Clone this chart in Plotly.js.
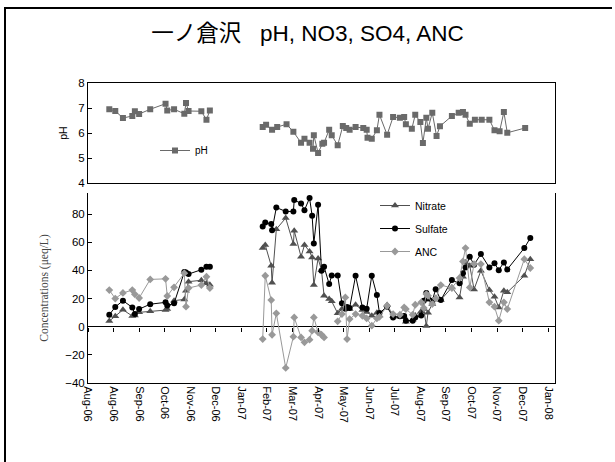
<!DOCTYPE html>
<html>
<head>
<meta charset="utf-8">
<script src="https://cdn.plot.ly/plotly-3.0.1.min.js"></script>
<style>
  html, body { margin: 0; padding: 0; background: #fff; }
  #wrap { position: relative; width: 615px; height: 462px; overflow: hidden; }
  #chart { position: absolute; left: 0; top: 0; width: 615px; height: 462px; }
  #frame { position: absolute; left: 4px; top: 7px; width: 606px; height: 470px;
           border-left: 2px solid #000; border-top: 2px solid #000; pointer-events: none; }
</style>
</head>
<body>
<div id="wrap"><div id="chart"></div><div id="frame"></div></div>
<script>
// ---------- data ----------
const titleText = '一ノ倉沢\u00a0\u00a0 pH, NO3, SO4, ANC';

const dates2006 = ['2006-08-26','2006-09-02','2006-09-11','2006-09-22','2006-09-25','2006-09-30',
  '2006-10-13','2006-10-31','2006-11-02','2006-11-10','2006-11-22','2006-11-24','2006-11-27',
  '2006-12-12','2006-12-18','2006-12-22'];
const ph2006 = [6.95,6.88,6.6,6.68,6.87,6.76,6.95,7.17,6.9,6.95,6.77,7.2,6.88,6.87,6.53,6.9];
const nitrate2006 = [4,7.5,12,7.6,8,10.2,11,11.8,12.5,18.5,19.4,25.6,32,33,30.8,29.8];
const sulfate2006 = [8.5,14,18.5,13.7,9,12.5,16,17.3,15,16.6,38.8,38.5,37.4,40.5,42.6,42.6];
const anc2006 = [26,20,24,26,23,20.4,33.6,34,21.8,28,38,14.2,27.5,29.6,35.5,27.5];

const phDates2007 = ['2007-02-22','2007-02-26','2007-03-05','2007-03-11','2007-03-22','2007-03-30',
  '2007-04-08','2007-04-12','2007-04-18','2007-04-22','2007-04-23','2007-04-28','2007-05-03',
  '2007-05-05','2007-05-11','2007-05-14','2007-05-21','2007-05-27','2007-05-31','2007-06-04',
  '2007-06-11','2007-06-20','2007-06-24','2007-06-25','2007-06-30','2007-07-06','2007-07-09',
  '2007-07-18','2007-07-25','2007-08-02','2007-08-07','2007-08-09','2007-08-16','2007-08-20',
  '2007-08-26','2007-08-29','2007-09-02','2007-09-04','2007-09-09','2007-09-14','2007-09-18',
  '2007-10-02','2007-10-10','2007-10-15','2007-10-18','2007-10-23','2007-10-29','2007-11-06',
  '2007-11-15','2007-11-21','2007-11-27','2007-12-02','2007-12-06','2007-12-27'];
const ph2007 = [6.24,6.33,6.13,6.24,6.35,6.05,5.61,5.77,5.61,5.37,5.91,5.2,5.57,5.61,6.13,5.91,
  5.51,6.28,6.2,6.13,6.24,6.2,6.13,5.81,5.77,6.11,6.73,5.93,6.64,6.61,6.64,6.35,6.17,6.73,6.44,
  5.6,6.61,6.17,6.81,5.88,6.27,6.68,6.81,6.84,6.73,6.37,6.53,6.53,6.53,6.11,6.07,6.84,6.01,6.2];

const concDates2007 = ['2007-02-22','2007-02-25','2007-03-04','2007-03-05','2007-03-10','2007-03-21',
  '2007-03-30','2007-03-31','2007-04-08','2007-04-12','2007-04-18','2007-04-21','2007-04-23',
  '2007-04-28','2007-05-02','2007-05-05','2007-05-11','2007-05-14','2007-05-21','2007-05-26',
  '2007-05-30','2007-06-01','2007-06-04','2007-06-11','2007-06-19','2007-06-24','2007-06-30',
  '2007-07-06','2007-07-09','2007-07-18','2007-07-25','2007-08-02','2007-08-07','2007-08-09',
  '2007-08-17','2007-08-20','2007-08-27','2007-08-30','2007-09-02','2007-09-04','2007-09-09',
  '2007-09-13','2007-09-19','2007-10-02','2007-10-11','2007-10-15','2007-10-18','2007-10-23',
  '2007-10-28','2007-11-05','2007-11-15','2007-11-21','2007-11-26','2007-12-02','2007-12-06',
  '2007-12-26','2008-01-02'];
const nitrate2007 = [55.9,58,43.3,31.2,69.3,77.2,58.7,68.2,49.7,58,53.5,49.2,29.6,48.5,40.2,22,
  19.6,18,9.5,12.5,13.7,13,12.5,15.6,11.8,10.4,7.8,9.9,8,15.4,7.6,7,7.1,3.6,5,8,10.9,12.5,0.5,
  10,16.1,20.4,19,27.9,20.8,35.5,45.7,43.3,26.5,39.8,26,21.3,13.7,25.6,24.4,36.2,48];
const sulfate2007 = [71.2,74,73,68.6,84.7,81.9,81.9,90,87.6,82.8,91.4,78.8,59.2,86.6,39.8,42.6,
  30.3,36.4,36.4,16.6,12.8,14,13.3,36.2,13.7,12.8,36.2,22.5,9.7,14.2,6.6,7.5,7.6,4.3,4.3,6.6,8,
  18.5,24,20,18.5,26.7,18.9,33.1,30.8,37.9,42,49.7,44,51.6,42,45,40.2,45.7,40.7,55.9,63];
const anc2007 = [-8.8,36.2,18.9,-5.7,9.5,-29.3,-7.1,6.6,-7.6,-11.1,-9.2,-2.8,6.6,-4,-5.7,-7.6,
  null,null,3.8,9,20.8,-8.8,5.4,9,7.8,5.9,0.7,5.9,7,14.9,9,8.5,13.7,12.5,8.5,15.6,17.3,13.3,
  23.2,22,16.1,20,29.6,27.5,34.6,46.4,55.9,27.9,44.5,44.5,17.3,14.2,4.3,17.3,12.5,48,41.7];

const xRange = ['2006-08-01','2008-01-31'];
const tickStart = '2006-08-01';
const tickStepDays = 30;
const phRange = [4, 8];
const concRange = [-40, 95];

// ---------- layout geometry ----------
const W = 615, H = 462;
const xDom = [88 / W, 555 / W];
const phDom = [1 - 183 / H, 1 - 83 / H];
const concDom = [1 - 383 / H, 1 - 193 / H];
const zeroPos = concDom[0] + (0 - concRange[0]) / (concRange[1] - concRange[0]) * (concDom[1] - concDom[0]);
const FONT = 'Liberation Sans, Arial, sans-serif';

const traces = [];
function addSeries(name, xs, ys, style, yaxis, legend, first) {
  traces.push({
    type: 'scatter', mode: 'lines+markers', name: name, x: xs, y: ys,
    xaxis: yaxis === 'y' ? 'x' : 'x2', yaxis: yaxis,
    legend: legend, legendgroup: name, showlegend: first,
    line: { color: style.line, width: 1 },
    marker: { symbol: style.symbol, size: style.size, color: style.color, line: { width: 0 } },
    connectgaps: false, hoverinfo: 'x+y'
  });
}
const phStyle = { line: '#6a6a6a', color: '#6a6a6a', symbol: 'square', size: 6 };
const nitStyle = { line: '#505050', color: '#505050', symbol: 'triangle-up', size: 7 };
const sulStyle = { line: '#000000', color: '#000000', symbol: 'circle', size: 6 };
const ancStyle = { line: '#999999', color: '#999999', symbol: 'diamond', size: 6 };

addSeries('pH', dates2006, ph2006, phStyle, 'y', 'legend', true);
addSeries('pH', phDates2007, ph2007, phStyle, 'y', 'legend', false);
addSeries('Nitrate', dates2006, nitrate2006, nitStyle, 'y2', 'legend2', true);
addSeries('Nitrate', concDates2007, nitrate2007, nitStyle, 'y2', 'legend2', false);
addSeries('Sulfate', dates2006, sulfate2006, sulStyle, 'y2', 'legend2', true);
addSeries('Sulfate', concDates2007, sulfate2007, sulStyle, 'y2', 'legend2', false);
addSeries('ANC', dates2006, anc2006, ancStyle, 'y2', 'legend2', true);
addSeries('ANC', concDates2007, anc2007, ancStyle, 'y2', 'legend2', false);
// carrier for the tick marks drawn on the zero line
traces.push({ type: 'scatter', x: [], y: [], xaxis: 'x3', yaxis: 'y2', showlegend: false, hoverinfo: 'skip' });

const dtickMs = tickStepDays * 86400000;

const layout = {
  width: W, height: H,
  margin: { l: 0, r: 0, t: 0, b: 0 },
  paper_bgcolor: '#fff', plot_bgcolor: 'rgba(0,0,0,0)',
  font: { family: FONT, size: 10, color: '#000' },
  showlegend: true,
  title: {
    text: titleText, x: 0.5, xanchor: 'center', xref: 'paper',
    y: 1 - 33 / H, yanchor: 'middle', yref: 'paper',
    font: { family: 'Liberation Sans, Noto Sans CJK JP, sans-serif', size: 22.5, color: '#000' }
  },
  xaxis: {
    domain: xDom, anchor: 'y', type: 'date', range: xRange,
    showline: true, mirror: true, linecolor: '#000', linewidth: 1,
    showticklabels: false, ticks: '', showgrid: false, zeroline: false, fixedrange: true
  },
  yaxis: {
    domain: phDom, anchor: 'x', range: phRange, dtick: 1, tick0: 4,
    ticks: 'inside', ticklen: 4, tickcolor: '#000',
    showline: true, mirror: true, linecolor: '#000', linewidth: 1,
    showgrid: false, zeroline: false, tickfont: { size: 11.5 },
    title: { text: 'pH', font: { size: 10.5 }, standoff: 8 }
  },
  xaxis2: {
    domain: xDom, anchor: 'y2', type: 'date', range: xRange,
    tick0: tickStart, dtick: dtickMs, tickformat: '%b-%y', tickangle: 90,
    ticks: '', showline: true, linecolor: '#000', linewidth: 1,
    showgrid: false, zeroline: false, tickfont: { size: 11 }
  },
  xaxis3: {
    overlaying: 'x2', anchor: 'free', position: zeroPos, type: 'date', range: xRange,
    tick0: tickStart, dtick: dtickMs, ticks: 'outside', ticklen: 4, tickcolor: '#000',
    showticklabels: false, showline: false, showgrid: false, zeroline: false
  },
  yaxis2: {
    domain: concDom, anchor: 'x2', range: concRange, dtick: 20, tick0: 0,
    ticks: 'inside', ticklen: 4, tickcolor: '#000',
    showline: true, mirror: true, linecolor: '#000', linewidth: 1,
    showgrid: false, zeroline: true, zerolinecolor: '#000', zerolinewidth: 1,
    tickfont: { size: 11.5 },
    title: { text: 'Concentrations (μeq/L)', standoff: 14,
             font: { family: 'Liberation Serif, Times New Roman, serif', size: 11.5, color: '#444' } }
  },
  legend: {
    x: 155 / W, y: 1 - 136 / H, xanchor: 'left', yanchor: 'top',
    bgcolor: 'rgba(0,0,0,0)', font: { size: 10 }, borderwidth: 0
  },
  legend2: {
    x: 375 / W, y: 1 - 191 / H, xanchor: 'left', yanchor: 'top',
    bgcolor: 'rgba(0,0,0,0)', font: { size: 10.5 }, borderwidth: 0, tracegroupgap: 4
  }
};

Plotly.newPlot('chart', traces, layout, { staticPlot: true, displayModeBar: false });
</script>
</body>
</html>
